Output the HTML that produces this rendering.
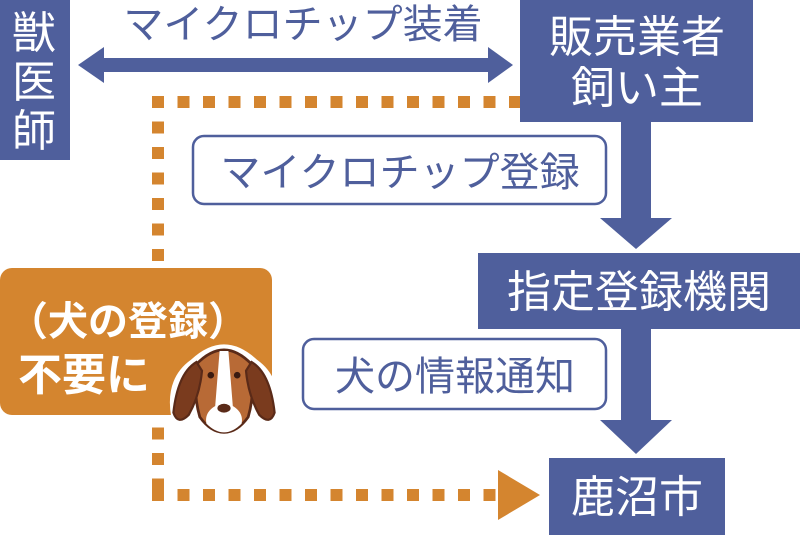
<!DOCTYPE html>
<html><head><meta charset="utf-8"><style>
html,body{margin:0;padding:0;background:#fff;}
svg{display:block;}
text{font-family:"Liberation Sans","Noto Sans CJK JP",sans-serif;}
</style></head><body>
<svg width="800" height="535" viewBox="0 0 800 535" xmlns="http://www.w3.org/2000/svg">
<!-- orange dotted lines -->
<g stroke="#d4852f" stroke-width="12" stroke-dasharray="12 13.5" fill="none">
<line x1="152" y1="102" x2="522" y2="102"/>
<line x1="158" y1="96" x2="158" y2="500"/>
<line x1="152" y1="495" x2="500" y2="495"/>
</g>
<polygon points="498,470 540,495 498,520" fill="#d4852f"/>
<!-- vet box -->
<rect x="0" y="0" width="70" height="160" fill="#4f5f9c"/>
<text x="34" y="48" font-size="44" fill="#fff" text-anchor="middle">獣</text>
<text x="34" y="97" font-size="44" fill="#fff" text-anchor="middle">医</text>
<text x="34" y="146" font-size="44" fill="#fff" text-anchor="middle">師</text>
<!-- double arrow -->
<rect x="100" y="58" width="392" height="14" fill="#4f5f9c"/>
<polygon points="78,65 104,47 104,83" fill="#4f5f9c"/>
<polygon points="513,65 488,47 488,83" fill="#4f5f9c"/>
<text x="303" y="38" font-size="40" fill="#4f5f9c" text-anchor="middle">マイクロチップ装着</text>
<!-- seller box -->
<rect x="520" y="0" width="233" height="122" fill="#4f5f9c"/>
<text x="637" y="52" font-size="44" fill="#fff" text-anchor="middle">販売業者</text>
<text x="637" y="103" font-size="44" fill="#fff" text-anchor="middle">飼い主</text>
<!-- arrow 1 -->
<rect x="621" y="120" width="30" height="100" fill="#4f5f9c"/>
<polygon points="600,218 672,218 636,249" fill="#4f5f9c"/>
<!-- label 1 -->
<rect x="193" y="136" width="413" height="68" rx="11" fill="#fff" stroke="#4f5f9c" stroke-width="2.5"/>
<text x="400" y="186" font-size="40" fill="#4f5f9c" text-anchor="middle">マイクロチップ登録</text>
<!-- registry box -->
<rect x="478" y="253" width="322" height="76" fill="#4f5f9c"/>
<text x="639" y="307" font-size="44" fill="#fff" text-anchor="middle">指定登録機関</text>
<!-- arrow 2 -->
<rect x="621" y="327" width="30" height="95" fill="#4f5f9c"/>
<polygon points="600,420 672,420 636,454" fill="#4f5f9c"/>
<!-- label 2 -->
<rect x="303" y="339" width="303" height="70" rx="11" fill="#fff" stroke="#4f5f9c" stroke-width="2.5"/>
<text x="455" y="390" font-size="40" fill="#4f5f9c" text-anchor="middle">犬の情報通知</text>
<!-- city box -->
<rect x="549" y="458" width="176" height="77" fill="#4f5f9c"/>
<text x="637" y="512" font-size="44" fill="#fff" text-anchor="middle">鹿沼市</text>
<!-- orange box -->
<rect x="0" y="268" width="272" height="147" rx="12" fill="#d4852f"/>
<text x="8" y="335" font-size="40" fill="#fff" font-weight="bold">（犬の登録）</text>
<text x="18" y="390" font-size="44" fill="#fff" font-weight="bold">不要に</text>
<!-- dog -->
<g transform="translate(-4,-6) translate(228,390) scale(1.1) translate(-228,-390)">
<path d="M198,368 Q228,340 258,368 Q282,385 276,420 Q268,432 255,418 L252,420 Q244,438 228,438 Q212,438 204,420 L200,418 Q188,432 180,420 Q174,385 198,368 Z" fill="#fff"/>
<path d="M203,372 Q228,346 253,372 Q256,400 250,420 Q240,434 228,434 Q216,434 206,420 Q200,400 203,372 Z" fill="#b86a36" stroke="#5a2a18" stroke-width="2.5"/>
<path d="M224,360 L232,360 L236,410 Q246,416 244,426 Q236,434 228,434 Q220,434 212,426 Q210,416 220,410 Z" fill="#fff"/>
<path d="M203,370 Q186,380 182,416 Q186,428 196,418 Q206,400 208,378 Z" fill="#7a3b1e" stroke="#5a2a18" stroke-width="2"/>
<path d="M253,370 Q270,380 274,416 Q270,428 260,418 Q250,400 248,378 Z" fill="#7a3b1e" stroke="#5a2a18" stroke-width="2"/>
<circle cx="216" cy="382" r="3" fill="#3a1a10"/>
<circle cx="240" cy="382" r="3" fill="#3a1a10"/>
<ellipse cx="228" cy="412" rx="6" ry="4" fill="#5a2a18"/>
</g>
</svg>
</body></html>
